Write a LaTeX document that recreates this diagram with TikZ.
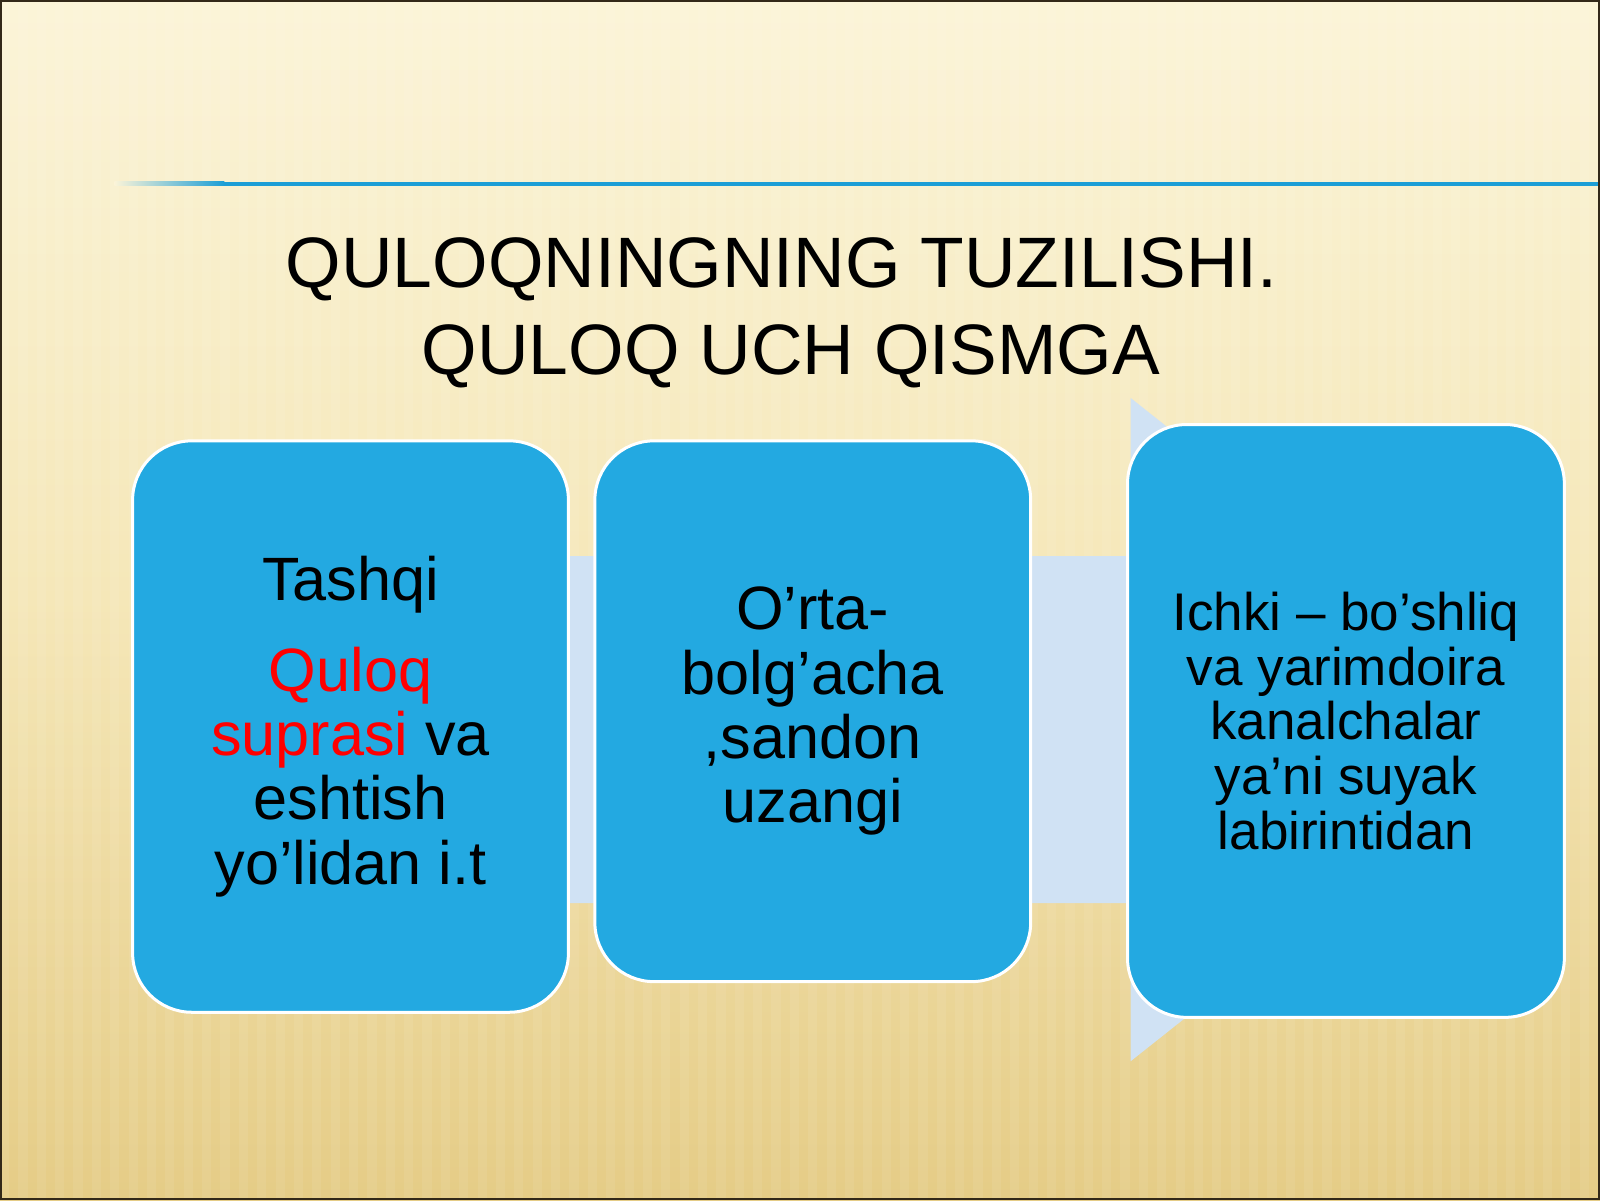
\documentclass[tikz,border=0pt]{standalone}
\usepackage{fontspec}
\setmainfont{Liberation Sans}
\definecolor{bgtop}{RGB}{251,244,216}
\definecolor{bgmid}{RGB}{245,231,184}
\definecolor{bgbot}{RGB}{229,204,134}
\definecolor{boxblue}{RGB}{35,169,225}
\definecolor{arrowblue}{RGB}{208,226,244}
\definecolor{lineblue}{RGB}{28,158,214}
\definecolor{framedark}{RGB}{50,40,25}
\begin{document}
\begin{tikzpicture}[x=0.5102pt,y=-0.5102pt,
  partbox/.style={rectangle, rounded corners=29.6pt, fill=boxblue, draw=white, line width=1.5pt, align=center, text=black, inner sep=0pt},
  titletext/.style={anchor=base, font=\fontsize{35.7}{43.4}\selectfont, text=black, inner sep=0pt},
  bigtext/.style={font=\fontsize{30.6}{32.1}\selectfont},
  smalltext/.style={font=\fontsize{26.5}{27.3}\selectfont}]
\useasboundingbox (0,0) rectangle (1568,1176);
% background
\shade[top color=bgtop, bottom color=bgbot, middle color=bgmid] (0,0) rectangle (1568,1176);
\foreach \x in {0,18,...,1568} \fill[white, opacity=0.07] (\x,0) rectangle (\x+9,1176);
% horizontal rule
\shade[left color=bgtop, right color=lineblue] (112,178) rectangle (220,182);
\fill[lineblue] (220,178) rectangle (1568,182);
% big background arrow
\fill[arrowblue] (150,545) -- (1108,545) -- (1108,390) -- (1518,715) -- (1108,1040) -- (1108,885) -- (150,885) -- cycle;
% title
\node[titletext] (t1) at (766,282) {QULOQNINGNING TUZILISHI.};
\node[titletext] (t2) at (775,367) {QULOQ UCH QISMGA};
% boxes
\node[partbox, bigtext, minimum width=217.9pt, minimum height=285.7pt] (outer) at (343.5,712)
  {Tashqi\\[13.3pt]\textcolor{red}{Quloq}\\\textcolor{red}{suprasi} va\\eshtish\\yo’lidan i.t};
\node[partbox, bigtext, minimum width=217.9pt, minimum height=270.4pt] (middle) at (796.5,697)
  {O’rta-\\bolg’acha\\,sandon\\uzangi};
\node[partbox, smalltext, minimum width=218.4pt, minimum height=296.4pt] (inner) at (1319,706.5)
  {Ichki – bo’shliq\\va yarimdoira\\kanalchalar\\ya’ni suyak\\labirintidan};
% frame
\draw[framedark, line width=1pt] (1,1) rectangle (1567,1175);
\end{tikzpicture}
\end{document}
